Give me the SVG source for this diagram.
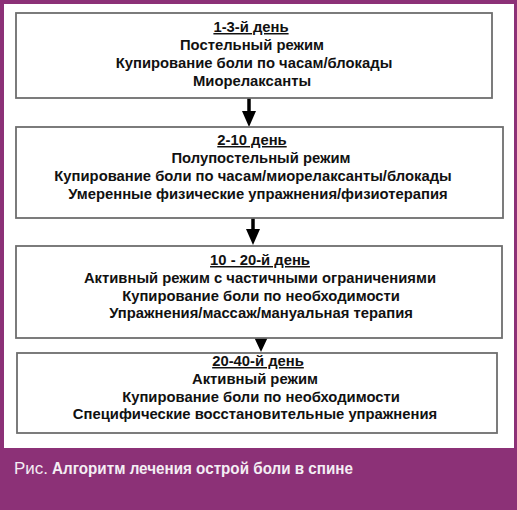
<svg xmlns="http://www.w3.org/2000/svg" width="517" height="510" viewBox="0 0 517 510">
<style>
.frame{fill:#8c3177}
.box{fill:#ffffff;stroke:#6e6e6e;stroke-width:1.8}
.t{font-family:"Liberation Sans",Arial,sans-serif;font-weight:bold;font-size:14.8px;fill:#111;text-anchor:middle}
.h{text-decoration:underline}
.arr{stroke:#000;stroke-width:3.5}
.head{fill:#000}
.cap{font-family:"Liberation Sans",Arial,sans-serif;font-size:17px;fill:#f4eef4}
</style>
<rect class="frame" x="0" y="0" width="517" height="510"/>
<rect x="4" y="4" width="510" height="444" fill="#ffffff"/>
<g id="connectors">
<line class="arr" x1="249" y1="98" x2="249" y2="113"/>
<polygon class="head" points="242,111 256,111 249,127"/>
<line class="arr" x1="253" y1="218" x2="253" y2="231"/>
<polygon class="head" points="246,229 260,229 253,245"/>
<line class="arr" x1="261" y1="338" x2="261" y2="339"/>
<polygon class="head" points="254,337 268,337 261,352"/>
</g>
<g id="box1">
<rect class="box" x="16" y="13" width="476" height="85"/>
<text class="t h" x="251" y="32">1-3-й день</text>
<text class="t" x="252" y="50">Постельный режим</text>
<text class="t" x="254" y="68">Купирование боли по часам/блокады</text>
<text class="t" x="252" y="86">Миорелаксанты</text>
</g>
<g id="box2">
<rect class="box" x="16" y="127" width="487" height="91"/>
<text class="t h" x="252" y="145">2-10 день</text>
<text class="t" x="261" y="163">Полупостельный режим</text>
<text class="t" x="253" y="181">Купирование боли по часам/миорелаксанты/блокады</text>
<text class="t" x="258" y="199">Умеренные физические упражнения/физиотерапия</text>
</g>
<g id="box3">
<rect class="box" x="16" y="246" width="486" height="92"/>
<text class="t h" x="260" y="265">10 - 20-й день</text>
<text class="t" x="260" y="283">Активный режим с частичными ограничениями</text>
<text class="t" x="261" y="301">Купирование боли по необходимости</text>
<text class="t" x="261" y="318">Упражнения/массаж/мануальная терапия</text>
</g>
<g id="box4">
<rect class="box" x="17" y="353" width="480" height="80"/>
<text class="t h" x="258" y="366">20-40-й  день</text>
<text class="t" x="255" y="384">Активный режим</text>
<text class="t" x="261" y="402">Купирование боли по необходимости</text>
<text class="t" x="255" y="419">Специфические восстановительные упражнения</text>
</g>
<g id="caption">
<text class="cap" x="14" y="474" textLength="34" lengthAdjust="spacingAndGlyphs">Рис.</text>
<text class="cap" x="52" y="474" font-weight="bold" textLength="301" lengthAdjust="spacingAndGlyphs">Алгоритм лечения острой боли в спине</text>
</g>
</svg>
